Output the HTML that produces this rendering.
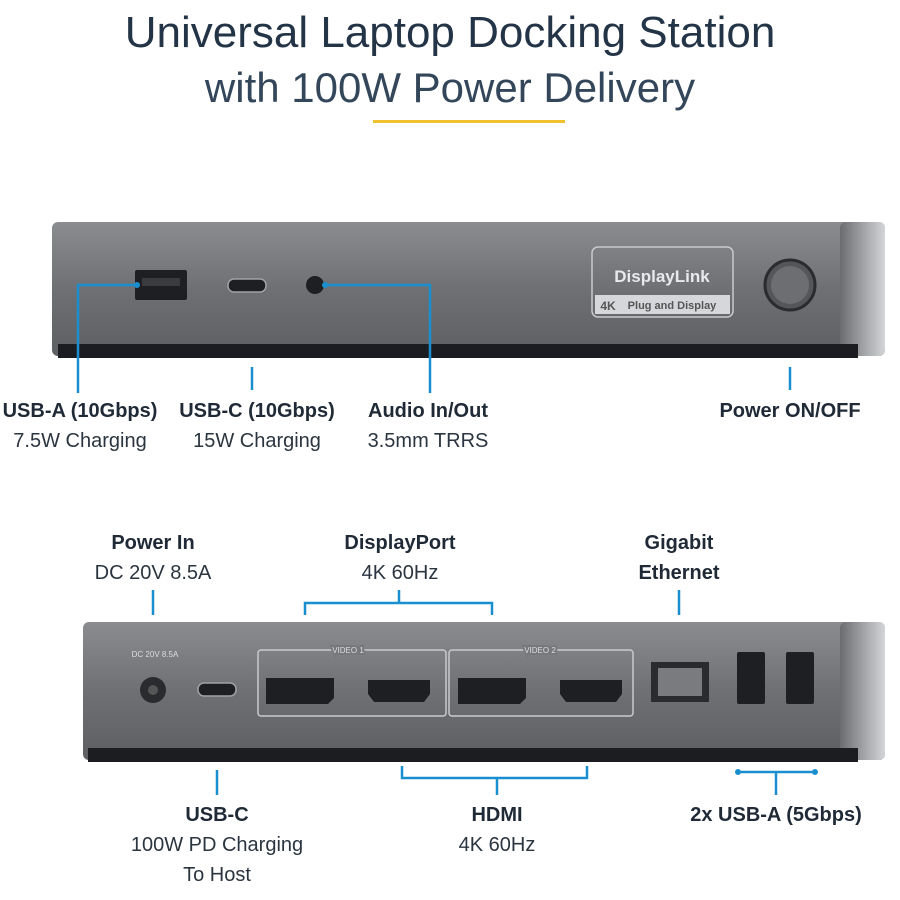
<!DOCTYPE html>
<html><head><meta charset="utf-8"><style>
body{margin:0;background:#fff;}
#w{position:relative;width:900px;height:900px;overflow:hidden;font-family:"Liberation Sans",sans-serif;color:#1f2a36;}
.t{position:absolute;left:0;width:900px;text-align:center;color:#243447;}
.l{position:absolute;transform:translateX(-50%);white-space:nowrap;font-size:20px;text-align:center;line-height:30px;}
.b{font-weight:bold;color:#1f2a36;}
.n{color:#2b3540;}
</style></head><body><div id="w">
<div class="t" style="top:8px;font-size:44px;">Universal Laptop Docking Station</div>
<div class="t" style="top:64px;font-size:42px;color:#34475a;">with 100W Power Delivery</div>
<svg width="900" height="900" style="position:absolute;left:0;top:0">
<defs>
<linearGradient id="g1" x1="0" y1="0" x2="0" y2="1"><stop offset="0" stop-color="#8a8c90"/><stop offset=".5" stop-color="#6e7074"/><stop offset="1" stop-color="#5d5f63"/></linearGradient>
<linearGradient id="g2" x1="0" y1="0" x2="1" y2="0"><stop offset="0" stop-color="#6a6c70"/><stop offset=".6" stop-color="#a9abaf"/><stop offset="1" stop-color="#d4d5d8"/></linearGradient>
</defs>
<rect x="373" y="120" width="192" height="3" fill="#f2c12e"/>
<rect x="52" y="222" width="833" height="134" rx="6" fill="url(#g1)"/>
<rect x="840" y="222" width="45" height="134" rx="6" fill="url(#g2)"/>
<rect x="58" y="344" width="800" height="14" fill="#1c1d20"/>
<rect x="135" y="270" width="52" height="30" rx="2" fill="#1e1f22"/>
<rect x="142" y="278" width="38" height="8" fill="#3a3b3e"/>
<rect x="228" y="279" width="38" height="13" rx="6" fill="#1e1f22" stroke="#a0a2a6" stroke-width="1.5"/>
<circle cx="315" cy="285" r="9" fill="#1e1f22"/>
<rect x="592" y="247" width="141" height="70" rx="6" fill="none" stroke="#c9cacd" stroke-width="1.5"/>
<text x="662" y="282" font-family="Liberation Sans" font-weight="bold" font-size="17" fill="#e8e9eb" text-anchor="middle">DisplayLink</text>
<rect x="595" y="295" width="135" height="19" fill="#d6d7da"/>
<text x="608" y="310" font-family="Liberation Sans" font-weight="bold" font-size="12" fill="#555" text-anchor="middle">4K</text>
<text x="672" y="309" font-family="Liberation Sans" font-weight="bold" font-size="11" fill="#555" text-anchor="middle">Plug and Display</text>
<circle cx="790" cy="285" r="25" fill="#555659" stroke="#2a2b2e" stroke-width="3"/>
<circle cx="790" cy="285" r="19" fill="#6d6e72"/>
<g stroke="#1a8fd0" stroke-width="2.5" fill="none">
<path d="M137 285 H78 V393"/><path d="M252 367 V390"/><path d="M325 285 H430 V393"/><path d="M790 367 V390"/>
<path d="M153 590 V615"/><path d="M305 615 V603 H492 V615 M399 603 V590"/><path d="M679 590 V615"/>
<path d="M217 770 V795"/><path d="M402 766 V778 H587 V766 M497 778 V795"/><path d="M738 772 H815 M776 772 V795"/>
</g>
<g fill="#1a8fd0"><circle cx="137" cy="285" r="3"/><circle cx="325" cy="285" r="3"/><circle cx="738" cy="772" r="3"/><circle cx="815" cy="772" r="3"/></g>
<rect x="83" y="622" width="802" height="138" rx="6" fill="url(#g1)"/>
<rect x="840" y="622" width="45" height="138" rx="6" fill="url(#g2)"/>
<rect x="88" y="748" width="770" height="14" fill="#1c1d20"/>
<text x="155" y="657" font-family="Liberation Sans" font-size="8" fill="#ddd" text-anchor="middle">DC 20V 8.5A</text>
<circle cx="153" cy="690" r="13" fill="#2a2b2e"/><circle cx="153" cy="690" r="5" fill="#555"/>
<rect x="198" y="683" width="38" height="13" rx="6" fill="#1e1f22" stroke="#a0a2a6" stroke-width="1.5"/>
<rect x="258" y="650" width="188" height="66" rx="3" fill="none" stroke="#c9cacd" stroke-width="1.5"/>
<rect x="449" y="650" width="184" height="66" rx="3" fill="none" stroke="#c9cacd" stroke-width="1.5"/>
<text x="348" y="653" font-family="Liberation Sans" font-size="8" fill="#ddd" text-anchor="middle" style="paint-order:stroke" stroke="#76787c" stroke-width="4">VIDEO 1</text>
<text x="540" y="653" font-family="Liberation Sans" font-size="8" fill="#ddd" text-anchor="middle" style="paint-order:stroke" stroke="#76787c" stroke-width="4">VIDEO 2</text>
<path d="M266 678 H334 V698 L328 704 H266 Z" fill="#1e1f22"/>
<path d="M368 680 H430 V694 L424 702 H374 L368 694 Z" fill="#1e1f22"/>
<path d="M458 678 H526 V698 L520 704 H458 Z" fill="#1e1f22"/>
<path d="M560 680 H622 V694 L616 702 H566 L560 694 Z" fill="#1e1f22"/>
<rect x="651" y="662" width="58" height="40" fill="#2a2b2e"/><rect x="658" y="668" width="44" height="28" fill="#7a7b7f"/>
<rect x="737" y="652" width="28" height="52" rx="2" fill="#1e1f22"/>
<rect x="786" y="652" width="28" height="52" rx="2" fill="#1e1f22"/>
</svg>
<div class="l b" style="left:80px;top:396px">USB-A (10Gbps)</div><div class="l n" style="left:80px;top:426px">7.5W Charging</div>
<div class="l b" style="left:257px;top:396px">USB-C (10Gbps)</div><div class="l n" style="left:257px;top:426px">15W Charging</div>
<div class="l b" style="left:428px;top:396px">Audio In/Out</div><div class="l n" style="left:428px;top:426px">3.5mm TRRS</div>
<div class="l b" style="left:790px;top:396px">Power ON/OFF</div>
<div class="l b" style="left:153px;top:528px">Power In</div><div class="l n" style="left:153px;top:558px">DC 20V 8.5A</div>
<div class="l b" style="left:400px;top:528px">DisplayPort</div><div class="l n" style="left:400px;top:558px">4K 60Hz</div>
<div class="l b" style="left:679px;top:528px">Gigabit</div><div class="l b" style="left:679px;top:558px">Ethernet</div>
<div class="l b" style="left:217px;top:800px">USB-C</div><div class="l n" style="left:217px;top:830px">100W PD Charging</div><div class="l n" style="left:217px;top:860px">To Host</div>
<div class="l b" style="left:497px;top:800px">HDMI</div><div class="l n" style="left:497px;top:830px">4K 60Hz</div>
<div class="l b" style="left:776px;top:800px">2x USB-A (5Gbps)</div>
</div></body></html>
